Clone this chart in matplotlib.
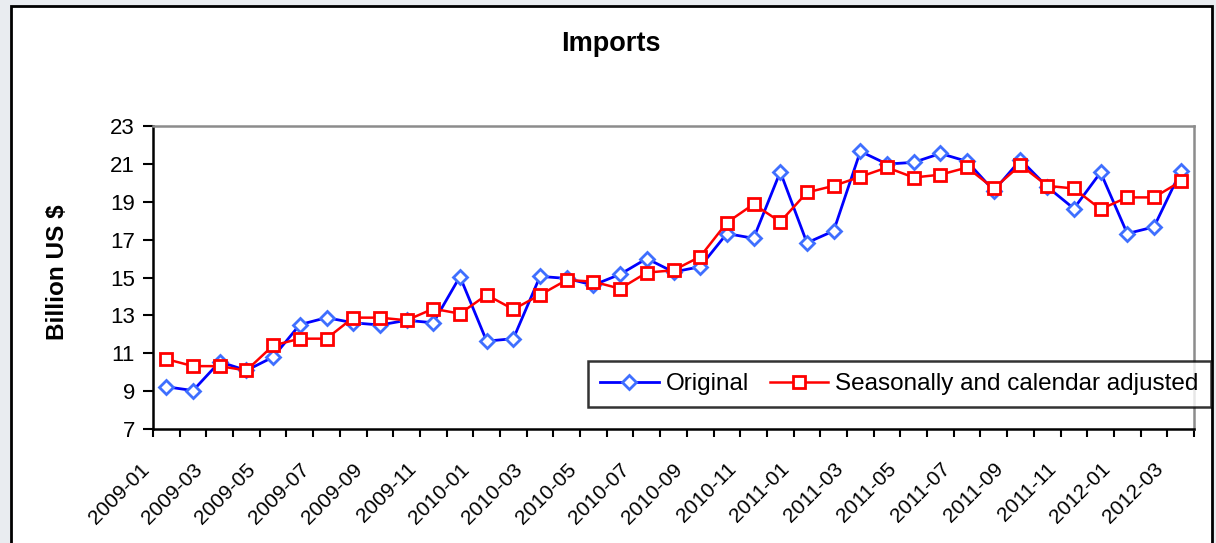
import numpy as np
import matplotlib.pyplot as plt
from matplotlib.patches import Rectangle
from matplotlib.transforms import ScaledTranslation

plt.rcParams['font.family'] = ['Liberation Sans', 'DejaVu Sans']

# monthly imports, 2009-01 .. 2012-03 (billion US $)
original = [9.23, 9.03, 10.55, 10.09, 10.80, 12.51, 12.88, 12.61, 12.49, 12.74,
            12.61, 15.05, 11.64, 11.77, 15.06, 14.95, 14.60, 15.17, 16.00, 15.29,
            15.57, 17.32, 17.07, 20.58, 16.83, 17.46, 21.66, 20.99, 21.08, 21.55,
            21.13, 19.58, 21.22, 19.79, 18.64, 20.55, 17.32, 17.67, 20.60]
adjusted = [10.69, 10.32, 10.32, 10.09, 11.41, 11.77, 11.77, 12.88, 12.88, 12.74,
            13.35, 13.09, 14.08, 13.32, 14.08, 14.87, 14.78, 14.41, 15.26, 15.38,
            16.10, 17.90, 18.87, 17.94, 19.49, 19.84, 20.32, 20.81, 20.28, 20.43,
            20.81, 19.70, 20.94, 19.84, 19.70, 18.61, 19.23, 19.23, 20.07]
tick_labels = ['2009-01', '2009-03', '2009-05', '2009-07', '2009-09', '2009-11',
               '2010-01', '2010-03', '2010-05', '2010-07', '2010-09', '2010-11',
               '2011-01', '2011-03', '2011-05', '2011-07', '2011-09', '2011-11',
               '2012-01', '2012-03']
y_ticks = [7, 9, 11, 13, 15, 17, 19, 21, 23]

W, H = 1216, 543
fig = plt.figure(figsize=(W / 100, H / 100), dpi=100)
fig.patch.set_facecolor('#e9ecf0')

# chart area frame
frame = Rectangle((11 / W, -0.05), (1212 - 11) / W, 1.05 - 6 / H,
                  transform=fig.transFigure, facecolor='white',
                  edgecolor='black', linewidth=2, zorder=-5)
fig.patches.append(frame)

ax = fig.add_axes([153 / W, 1 - 429 / H, (1194 - 153) / W, (429 - 126) / H])
ax.set_zorder(1)
ax.set_facecolor('white')

x = np.arange(len(original))
ax.plot(x, original, color='#0000ff', lw=2, marker='D', ms=7.2,
        mfc='white', mec='#3f6fff', mew=2, label='Original', clip_on=False)
ax.plot(x, adjusted, color='#ff0000', lw=1.8, marker='s', ms=8.5,
        mfc='white', mec='#ff0000', mew=2,
        label='Seasonally and calendar adjusted', clip_on=False)

ax.set_xlim(-0.5, len(original) - 0.5)
ax.set_ylim(7, 23)
ax.set_yticks(y_ticks)
ax.tick_params(axis='y', labelsize=16, length=7, width=1.5, direction='out',
               pad=6)

ax.set_xticks(np.arange(-0.5, len(original), 1.0))
ax.set_xticklabels([])
ax.tick_params(axis='x', which='major', length=6, width=1.5, direction='out')
ax.set_xticks(np.arange(0, len(original), 2), minor=True)
ax.set_xticklabels(tick_labels, minor=True, rotation=45, ha='right',
                   va='top', rotation_mode='anchor', fontsize=15)
ax.tick_params(axis='x', which='minor', length=0, pad=22)
offset = ScaledTranslation(-27 / 100, 0, fig.dpi_scale_trans)
for lbl in ax.get_xticklabels(minor=True):
    lbl.set_transform(lbl.get_transform() + offset)

for side in ('left', 'bottom'):
    ax.spines[side].set_color('black')
    ax.spines[side].set_linewidth(1.8)
for side in ('top', 'right'):
    ax.spines[side].set_color('#8c8c8c')
    ax.spines[side].set_linewidth(1.8)

fig.text(611 / W, 1 - 44 / H, 'Imports', ha='center', va='center',
         fontsize=19.5, fontweight='bold')
fig.text(58 / W, 1 - 272 / H, 'Billion US $', ha='center', va='center',
         rotation=90, fontsize=17.5, fontweight='bold')

leg = ax.legend(loc='upper right', bbox_to_anchor=(1211 / W, 1 - 361 / H),
                bbox_transform=fig.transFigure, ncol=2, fontsize=17.5,
                frameon=True, fancybox=False, edgecolor='black',
                handlelength=2.4, handletextpad=0.3, columnspacing=0.85,
                borderpad=0.5, borderaxespad=0)
leg.get_frame().set_linewidth(1.8)

fig.savefig('out.png', dpi=100, facecolor=fig.get_facecolor())
